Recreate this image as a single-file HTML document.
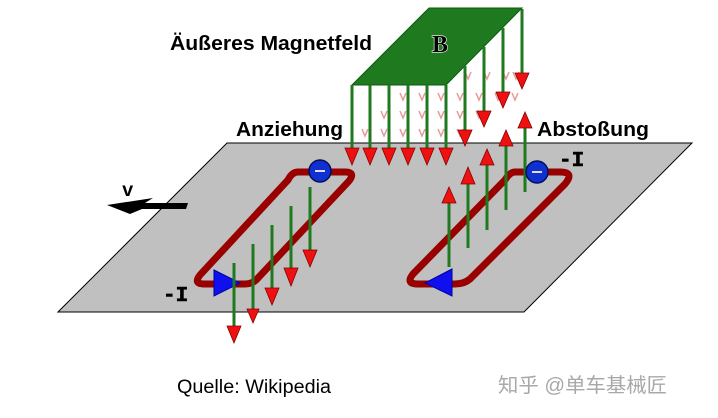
<!DOCTYPE html>
<html><head><meta charset="utf-8"><style>
html,body{margin:0;padding:0;background:#fff;}
svg{display:block;}
</style></head><body>
<svg width="718" height="418" viewBox="0 0 718 418" xmlns="http://www.w3.org/2000/svg">
<!-- plane -->
<polygon points="58,312 227,143 692,143 524,312" fill="#c0c0c0" stroke="#000" stroke-width="1"/>

<!-- faint field marks -->
<g stroke="#e08080" stroke-width="1.5" fill="none" opacity="0.8">
<path d="M465,72 l3,7 l3,-7 M484,72 l3,7 l3,-7 M503,72 l3,7 l3,-7 M513,72 l3,7 l3,-7"/>
<path d="M400,93 l3,7 l3,-7 M419,93 l3,7 l3,-7 M438,93 l3,7 l3,-7 M457,93 l3,7 l3,-7 M476,93 l3,7 l3,-7 M495,93 l3,7 l3,-7 M512,93 l3,7 l3,-7"/>
<path d="M381,111 l3,7 l3,-7 M400,111 l3,7 l3,-7 M419,111 l3,7 l3,-7 M438,111 l3,7 l3,-7 M457,111 l3,7 l3,-7 M476,111 l3,7 l3,-7"/>
<path d="M362,129 l3,7 l3,-7 M381,129 l3,7 l3,-7 M400,129 l3,7 l3,-7 M419,129 l3,7 l3,-7 M438,129 l3,7 l3,-7 M457,129 l3,7 l3,-7"/>
</g>

<!-- B plate -->
<polygon points="352,85 429,8 522,8 446,85" fill="#1f7a1f" stroke="#0d5a0d" stroke-width="1"/>
<text x="432" y="52" font-family="Liberation Serif, serif" font-weight="bold" font-size="24" fill="#000" stroke="#fff" stroke-width="1.2" paint-order="stroke">B</text>

<!-- down arrows from plate -->
<g stroke="#1f7a1f" stroke-width="3">
<line x1="352" y1="85" x2="352" y2="150"/><line x1="370" y1="85" x2="370" y2="150"/>
<line x1="389" y1="85" x2="389" y2="150"/><line x1="408" y1="85" x2="408" y2="150"/>
<line x1="427" y1="85" x2="427" y2="150"/><line x1="446" y1="85" x2="446" y2="150"/>
<line x1="465" y1="66" x2="465" y2="132"/><line x1="484" y1="47" x2="484" y2="114"/>
<line x1="503" y1="28" x2="503" y2="95"/><line x1="522" y1="9" x2="522" y2="76"/>
</g>
<g fill="#ee1111" stroke="#800" stroke-width="0.8">
<polygon points="345,148 359,148 352,165"/><polygon points="363,148 377,148 370,165"/>
<polygon points="382,148 396,148 389,165"/><polygon points="401,148 415,148 408,165"/>
<polygon points="420,148 434,148 427,165"/><polygon points="439,148 453,148 446,165"/>
<polygon points="458,130 472,130 465,146"/><polygon points="477,111 491,111 484,127"/>
<polygon points="496,92 510,92 503,108"/><polygon points="515,73 529,73 522,89"/>
</g>

<!-- left loop -->
<path d="M298,172 L345,172 Q356,172 349,181 L258,278 Q253,284 245,284 L204,284 Q193,284 200,275 L288,180 Q292,172 298,172 Z" fill="none" stroke="#990000" stroke-width="7"/>
<circle cx="320" cy="171" r="11" fill="#1030d0" stroke="#001060" stroke-width="1.5"/>
<line x1="315" y1="171" x2="325" y2="171" stroke="#ddd" stroke-width="2"/>
<polygon points="214,270 240,283 214,296" fill="#1010ee" stroke="#0000a0" stroke-width="1"/>

<g stroke="#1f7a1f" stroke-width="3">
<line x1="234" y1="263" x2="234" y2="328"/><line x1="253" y1="244" x2="253" y2="310"/>
<line x1="272" y1="225" x2="272" y2="290"/><line x1="291" y1="206" x2="291" y2="270"/>
<line x1="310" y1="187" x2="310" y2="252"/>
</g>
<g fill="#ee1111" stroke="#800" stroke-width="0.8">
<polygon points="227,326 241,326 234,343"/><polygon points="247,309 259,309 253,323"/>
<polygon points="265,288 279,288 272,305"/><polygon points="284,268 298,268 291,286"/>
<polygon points="303,250 317,250 310,267"/>
</g>

<!-- right loop -->
<path d="M515,172 L560,172 Q575,172 565,184 L470,279 Q464,284 455,284 L418,284 Q405,284 413,274 L505,180 Q510,172 515,172 Z" fill="none" stroke="#990000" stroke-width="7"/>
<g stroke="#1f7a1f" stroke-width="3">
<line x1="449" y1="200" x2="449" y2="267"/><line x1="468" y1="180" x2="468" y2="248"/>
<line x1="487" y1="162" x2="487" y2="230"/><line x1="506" y1="142" x2="506" y2="210"/>
<line x1="525" y1="124" x2="525" y2="192"/>
</g>
<g fill="#ee1111" stroke="#800" stroke-width="0.8">
<polygon points="442,203 456,203 449,187"/><polygon points="461,184 475,184 468,167"/>
<polygon points="480,165 494,165 487,149"/><polygon points="499,146 513,146 506,130"/>
<polygon points="518,128 532,128 525,112"/>
</g>
<circle cx="537" cy="172" r="11" fill="#1030d0" stroke="#001060" stroke-width="1.5"/>
<line x1="532" y1="172" x2="542" y2="172" stroke="#ddd" stroke-width="2"/>
<polygon points="452,269 425,283 452,296" fill="#1010ee" stroke="#0000a0" stroke-width="1"/>

<!-- v arrow -->
<polygon points="107,205 153,198 145,203 188,203 186,209 142,209 130,214" fill="#000"/>
<text x="122" y="196" font-family="Liberation Mono, monospace" font-weight="bold" font-size="19">v</text>

<!-- labels -->
<g font-family="Liberation Sans, sans-serif" font-weight="bold" font-size="20.5" fill="#000">
<text x="170" y="50" textLength="202" lengthAdjust="spacingAndGlyphs">Äußeres Magnetfeld</text>
<text x="236" y="136" textLength="107" lengthAdjust="spacingAndGlyphs">Anziehung</text>
<text x="537" y="136" textLength="112" lengthAdjust="spacingAndGlyphs">Abstoßung</text>
</g>
<g font-family="Liberation Mono, monospace" font-weight="bold" font-size="21" fill="#000" stroke="#000" stroke-width="0.6">
<text x="559" y="166">-I</text>
<text x="163" y="301">-I</text>
</g>
<text x="177" y="393" font-family="Liberation Sans, sans-serif" font-size="19" fill="#000" textLength="154" lengthAdjust="spacingAndGlyphs">Quelle: Wikipedia</text>
<text x="498" y="392" font-family="Liberation Sans, 'Noto Sans CJK SC', sans-serif" font-size="20" fill="#a8a8a8" textLength="169" lengthAdjust="spacingAndGlyphs">知乎 @单车基械匠</text>
</svg>
</body></html>
